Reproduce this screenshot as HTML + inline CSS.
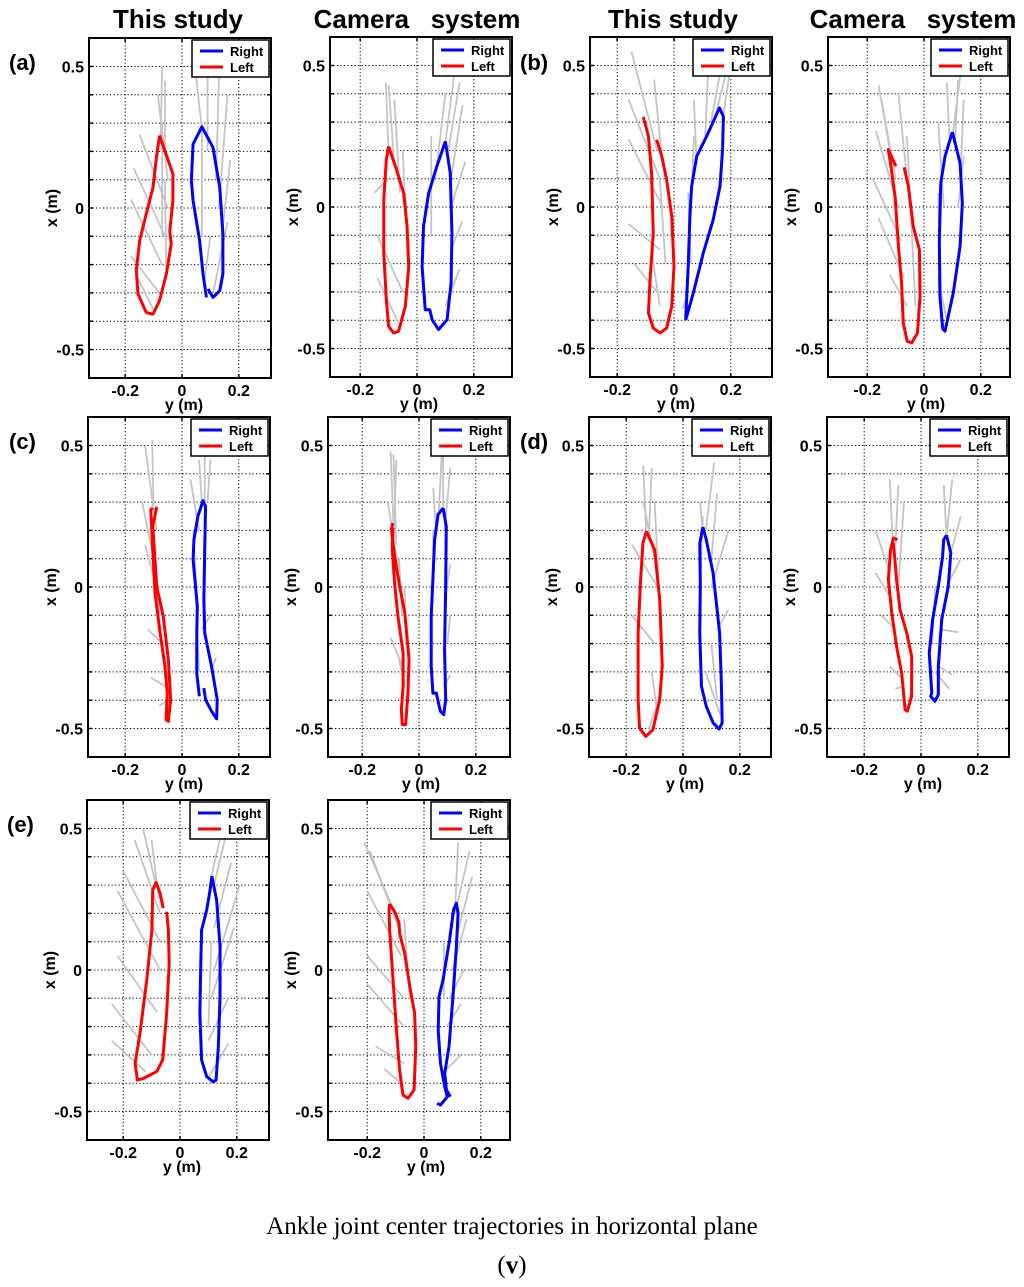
<!DOCTYPE html>
<html><head><meta charset="utf-8"><style>
html,body{margin:0;padding:0;background:#fff;}
svg{display:block;}
text{font-family:"Liberation Sans",Arial,sans-serif;}
</style></head><body>
<svg id="fig" width="1024" height="1287" viewBox="0 0 1024 1287" xmlns="http://www.w3.org/2000/svg">
<g font-weight="bold" font-size="26" text-anchor="middle">
<text x="178" y="28">This study</text>
<text x="417" y="28" xml:space="preserve">Camera   system</text>
<text x="673" y="28">This study</text>
<text x="913" y="28" xml:space="preserve">Camera   system</text>
</g>
<g font-weight="bold" font-size="22">
<text x="9" y="70">(a)</text>
<text x="520" y="70">(b)</text>
<text x="9" y="449">(c)</text>
<text x="520" y="449">(d)</text>
<text x="7" y="832">(e)</text>
</g>
<text x="512" y="1234" text-anchor="middle" font-size="25" style="font-family:'Liberation Serif',serif">Ankle joint center trajectories in horizontal plane</text>
<text x="512" y="1273" text-anchor="middle" font-size="25" style="font-family:'Liberation Serif',serif">(<tspan font-weight="bold">v</tspan>)</text>
</svg>
<script>
// Tick values
const yTicks = [-0.2, 0, 0.2];
const yTickLabels = ["-0.2", "0", "0.2"];
const xTicks = [-0.5, -0.4, -0.3, -0.2, -0.1, 0, 0.1, 0.2, 0.3, 0.4, 0.5];
const xTickLabels = ["-0.5", "0", "0.5"];
const xLabelValues = [-0.5, 0, 0.5];

// Trajectories: [y (m), x (m)] pairs
const aL_left = [[-0.079,0.256],[-0.032,0.12],[-0.032,0.026],[-0.043,-0.08],[-0.038,-0.127],[-0.055,-0.233],[-0.079,-0.327],[-0.102,-0.375],[-0.126,-0.369],[-0.155,-0.304],[-0.161,-0.221],[-0.149,-0.115],[-0.126,-0.021],[-0.102,0.073],[-0.09,0.179],[-0.079,0.256]];
const aL_right = [[0.086,-0.316],[0.074,-0.233],[0.062,-0.115],[0.039,0.026],[0.033,0.097],[0.039,0.226],[0.07,0.287],[0.109,0.214],[0.133,0.073],[0.144,-0.092],[0.144,-0.233],[0.133,-0.292],[0.109,-0.316],[0.092,-0.286]];
const aR_left = [[-0.1,0.214],[-0.076,0.144],[-0.047,0.049],[-0.035,-0.068],[-0.029,-0.21],[-0.041,-0.351],[-0.065,-0.439],[-0.082,-0.445],[-0.1,-0.422],[-0.108,-0.327],[-0.117,-0.163],[-0.117,0.026],[-0.108,0.167],[-0.1,0.214]];
const aR_right = [[0.1,0.232],[0.117,0.12],[0.123,-0.092],[0.12,-0.268],[0.106,-0.398],[0.076,-0.433],[0.053,-0.398],[0.045,-0.363],[0.029,-0.363],[0.018,-0.21],[0.023,-0.068],[0.041,0.049],[0.07,0.144],[0.1,0.232]];
const bL_left = [[-0.108,0.318],[-0.09,0.25],[-0.079,0.12],[-0.073,-0.092],[-0.085,-0.268],[-0.09,-0.375],[-0.073,-0.428],[-0.049,-0.445],[-0.026,-0.428],[-0.008,-0.351],[0,-0.21],[-0.008,-0.033],[-0.026,0.097],[-0.043,0.179],[-0.061,0.238]];
const bL_right = [[0.041,-0.4],[0.05,-0.21],[0.056,-0.033],[0.062,0.073],[0.08,0.179],[0.115,0.25],[0.16,0.35],[0.174,0.32],[0.171,0.203],[0.162,0.073],[0.138,-0.045],[0.103,-0.163],[0.068,-0.304],[0.041,-0.4]];
const bR_left = [[-0.099,0.144],[-0.126,0.203],[-0.118,0.155],[-0.102,0.038],[-0.09,-0.139],[-0.079,-0.269],[-0.073,-0.41],[-0.059,-0.475],[-0.043,-0.48],[-0.023,-0.445],[-0.014,-0.316],[-0.016,-0.151],[-0.038,-0.068],[-0.055,0.073],[-0.07,0.14]];
const bR_right = [[0.1,0.265],[0.127,0.155],[0.135,0.014],[0.127,-0.139],[0.103,-0.304],[0.074,-0.439],[0.066,-0.43],[0.056,-0.316],[0.054,-0.115],[0.059,0.085],[0.074,0.179],[0.1,0.265]];
const cL_left = [[-0.089,0.283],[-0.103,0.215],[-0.089,0.002],[-0.066,-0.104],[-0.048,-0.257],[-0.04,-0.398],[-0.048,-0.475],[-0.056,-0.469],[-0.052,-0.375],[-0.06,-0.28],[-0.077,-0.163],[-0.095,-0.021],[-0.103,0.132],[-0.11,0.273],[-0.103,0.279]];
const cL_right = [[0.061,-0.386],[0.052,-0.304],[0.052,-0.163],[0.054,-0.068],[0.039,0.097],[0.042,0.167],[0.056,0.25],[0.074,0.305],[0.083,0.285],[0.08,0.132],[0.077,-0.045],[0.08,-0.163],[0.104,-0.28],[0.124,-0.398],[0.122,-0.466],[0.104,-0.439],[0.083,-0.398],[0.077,-0.357]];
const cR_left = [[-0.092,0.226],[-0.097,0.203],[-0.086,0.108],[-0.068,0.002],[-0.05,-0.092],[-0.035,-0.257],[-0.039,-0.375],[-0.047,-0.486],[-0.059,-0.486],[-0.062,-0.433],[-0.056,-0.351],[-0.056,-0.233],[-0.074,-0.104],[-0.086,0.014],[-0.094,0.132],[-0.092,0.209]];
const cR_right = [[0.085,0.279],[0.096,0.214],[0.094,0.002],[0.09,-0.221],[0.094,-0.398],[0.087,-0.451],[0.075,-0.439],[0.061,-0.375],[0.049,-0.375],[0.043,-0.28],[0.043,-0.104],[0.052,0.097],[0.055,0.167],[0.067,0.256],[0.085,0.279]];
const dL_left = [[-0.129,0.197],[-0.1,0.132],[-0.082,-0.045],[-0.073,-0.28],[-0.082,-0.398],[-0.106,-0.504],[-0.131,-0.528],[-0.153,-0.498],[-0.158,-0.398],[-0.158,-0.163],[-0.15,0.014],[-0.141,0.155],[-0.129,0.197]];
const dL_right = [[0.07,0.212],[0.082,0.167],[0.106,0.049],[0.129,-0.163],[0.135,-0.339],[0.138,-0.48],[0.127,-0.502],[0.106,-0.48],[0.082,-0.422],[0.065,-0.351],[0.059,-0.163],[0.061,0.014],[0.059,0.155],[0.07,0.212]];
const dR_left = [[-0.083,0.167],[-0.097,0.173],[-0.107,0.132],[-0.115,0.026],[-0.103,-0.092],[-0.086,-0.21],[-0.068,-0.304],[-0.056,-0.433],[-0.048,-0.439],[-0.033,-0.386],[-0.033,-0.245],[-0.05,-0.163],[-0.074,-0.08],[-0.086,0.026],[-0.097,0.155]];
const dR_right = [[0.09,0.183],[0.105,0.12],[0.096,0.002],[0.073,-0.115],[0.061,-0.28],[0.061,-0.38],[0.049,-0.404],[0.034,-0.386],[0.038,-0.374],[0.029,-0.233],[0.041,-0.115],[0.061,0.002],[0.076,0.108],[0.08,0.167],[0.09,0.183]];
const eL_left = [[-0.059,0.218],[-0.07,0.271],[-0.084,0.309],[-0.096,0.283],[-0.099,0.141],[-0.117,-0.035],[-0.141,-0.224],[-0.158,-0.33],[-0.15,-0.389],[-0.129,-0.383],[-0.082,-0.359],[-0.061,-0.318],[-0.047,-0.153],[-0.038,0.024],[-0.041,0.141],[-0.047,0.206]];
const eL_right = [[0.112,0.332],[0.129,0.247],[0.141,0.082],[0.141,-0.094],[0.135,-0.271],[0.127,-0.389],[0.117,-0.395],[0.094,-0.377],[0.076,-0.318],[0.07,-0.153],[0.073,0.012],[0.076,0.141],[0.094,0.212],[0.106,0.283],[0.112,0.332]];
const eR_left = [[-0.121,0.233],[-0.103,0.206],[-0.088,0.167],[-0.086,0.13],[-0.068,0.059],[-0.05,-0.059],[-0.033,-0.153],[-0.029,-0.271],[-0.035,-0.424],[-0.056,-0.453],[-0.074,-0.442],[-0.086,-0.353],[-0.097,-0.212],[-0.109,-0.035],[-0.121,0.141],[-0.123,0.212],[-0.121,0.233]];
const eR_right = [[0.093,-0.448],[0.079,-0.424],[0.073,-0.365],[0.088,-0.271],[0.102,-0.094],[0.114,0.082],[0.12,0.2],[0.114,0.236],[0.104,0.212],[0.09,0.106],[0.067,-0.035],[0.053,-0.094],[0.05,-0.212],[0.058,-0.33],[0.073,-0.412],[0.082,-0.448],[0.058,-0.477],[0.046,-0.471]];

// Grey shank segments: [y0, x0, y1, x1] in metres
const aL_grey = [[-0.075,0.25,-0.07,0.5],[-0.06,0.2,-0.06,0.45],[-0.05,0.1,-0.085,0.4],[-0.05,0.0,-0.15,0.26],[-0.06,-0.1,-0.17,0.14],[-0.07,-0.2,-0.18,0.03],[-0.08,-0.3,-0.18,-0.17],[-0.1,-0.36,-0.16,-0.24],[-0.07,-0.1,-0.07,0.3],[-0.055,-0.25,-0.06,0.1],[0.07,0.28,0.05,0.46],[0.09,0.2,0.09,0.46],[0.12,0.1,0.13,0.46],[0.13,0,0.16,0.4],[0.14,-0.1,0.17,0.17],[0.13,-0.2,0.16,-0.05],[0.11,-0.3,0.14,-0.15],[0.08,-0.25,0.1,-0.1],[0.07,-0.1,0.07,0.3]];
const aR_grey = [[-0.1,0.2,-0.11,0.44],[-0.08,0.15,-0.1,0.43],[-0.06,0.05,-0.08,0.38],[-0.04,-0.05,-0.05,0.2],[-0.03,-0.2,-0.04,0.05],[-0.05,-0.3,-0.14,-0.1],[-0.07,-0.4,-0.14,-0.25],[-0.1,0.1,-0.15,0.05],[0.1,0.23,0.13,0.46],[0.11,0.2,0.15,0.44],[0.07,0.15,0.1,0.4],[0.12,0.1,0.16,0.36],[0.12,0,0.17,0.16],[0.12,-0.15,0.16,-0.05],[0.1,-0.35,0.15,-0.22],[0.05,-0.1,0.05,0.25]];
const bL_grey = [[-0.06,0.2,-0.15,0.55],[-0.05,0.1,-0.16,0.38],[-0.04,0,-0.16,0.24],[-0.05,-0.15,-0.16,-0.06],[-0.06,-0.3,-0.14,-0.2],[-0.05,-0.35,-0.08,-0.15],[-0.04,0.15,-0.07,0.45],[-0.03,-0.2,-0.05,0.1],[0.11,0.25,0.12,0.48],[0.14,0.3,0.19,0.5],[0.13,0.3,0.16,0.46],[0.08,0.15,0.07,0.38],[0.06,0.0,0.07,0.25],[0.05,-0.3,0.03,-0.36],[0.06,-0.2,0.05,0.05],[0.17,0.3,0.2,0.5]];
const bR_grey = [[-0.12,0.2,-0.16,0.43],[-0.1,0.1,-0.15,0.38],[-0.09,0,-0.17,0.27],[-0.08,-0.12,-0.18,0.1],[-0.07,-0.25,-0.16,-0.04],[-0.06,-0.35,-0.12,-0.24],[-0.05,0.0,-0.09,0.4],[-0.03,-0.35,-0.06,0.25],[0.09,0.24,0.08,0.44],[0.11,0.24,0.12,0.45],[0.13,0.15,0.14,0.38],[0.12,0.0,0.14,0.18],[0.07,0.0,0.05,0.3],[0.06,-0.3,0.05,0.05],[0.08,-0.4,0.05,-0.25],[0.1,0.25,0.13,0.48]];
const cL_grey = [[-0.1,0.27,-0.105,0.52],[-0.09,0.2,-0.13,0.5],[-0.1,0.1,-0.14,0.3],[-0.09,0,-0.13,0.15],[-0.07,-0.2,-0.12,-0.15],[-0.06,-0.35,-0.11,-0.32],[-0.05,-0.4,-0.08,-0.42],[-0.08,-0.1,-0.1,0.2],[0.07,0.3,0.06,0.45],[0.08,0.28,0.08,0.47],[0.06,0.2,0.03,0.38],[0.05,0,0.04,0.2],[0.07,-0.15,0.1,-0.1],[0.1,-0.3,0.12,-0.25],[0.06,-0.3,0.05,-0.05],[0.09,0.3,0.1,0.45]];
const cR_grey = [[-0.09,0.22,-0.1,0.48],[-0.08,0.15,-0.09,0.47],[-0.07,0.05,-0.11,0.3],[-0.06,-0.1,-0.07,0.1],[-0.05,-0.3,-0.1,-0.18],[-0.05,-0.35,-0.07,-0.26],[-0.045,-0.2,-0.05,0],[-0.09,0.1,-0.08,0.45],[0.085,0.27,0.085,0.47],[0.09,0.2,0.11,0.42],[0.06,0.2,0.05,0.35],[0.05,0,0.05,0.2],[0.09,-0.05,0.11,0.08],[0.1,-0.2,0.11,-0.1],[0.09,-0.35,0.11,-0.31],[0.07,0.27,0.08,0.47]];
const dL_grey = [[-0.13,0.2,-0.14,0.43],[-0.12,0.18,-0.11,0.42],[-0.1,0.1,-0.14,0.3],[-0.09,0,-0.18,0.15],[-0.1,-0.2,-0.18,-0.1],[-0.09,-0.45,-0.11,-0.3],[-0.12,-0.5,-0.08,-0.38],[-0.08,-0.1,-0.1,0.3],[0.07,0.2,0.06,0.3],[0.08,0.2,0.11,0.44],[0.1,0.1,0.12,0.33],[0.1,0.0,0.16,0.2],[0.12,-0.15,0.16,-0.08],[0.12,-0.4,0.1,-0.2],[0.13,-0.45,0.08,-0.3],[0.06,0.0,0.07,0.25]];
const dR_grey = [[-0.1,0.17,-0.11,0.38],[-0.09,0.15,-0.08,0.36],[-0.11,0.05,-0.16,0.2],[-0.1,-0.05,-0.16,0.05],[-0.09,-0.15,-0.14,-0.1],[-0.07,-0.32,-0.11,-0.28],[-0.06,-0.35,-0.09,-0.36],[-0.08,0.0,-0.06,0.3],[0.09,0.18,0.11,0.38],[0.09,0.18,0.08,0.36],[0.1,0.1,0.14,0.25],[0.09,0.0,0.14,0.1],[0.07,-0.15,0.13,-0.16],[0.06,-0.28,0.11,-0.31],[0.05,-0.3,0.1,-0.36],[0.04,-0.2,0.05,0.0]];
const eL_grey = [[-0.085,0.3,-0.13,0.5],[-0.075,0.25,-0.1,0.46],[-0.07,0.2,-0.16,0.46],[-0.07,0.1,-0.2,0.35],[-0.07,0,-0.22,0.28],[-0.08,-0.15,-0.22,0.05],[-0.1,-0.3,-0.24,-0.12],[-0.12,-0.36,-0.24,-0.25],[0.11,0.33,0.14,0.46],[0.12,0.3,0.16,0.47],[0.12,0.15,0.18,0.38],[0.12,0.0,0.21,0.3],[0.11,-0.1,0.19,0.15],[0.1,-0.25,0.17,-0.1],[0.1,-0.38,0.17,-0.26],[0.1,-0.2,0.11,0.1]];
const eR_grey = [[-0.11,0.22,-0.21,0.45],[-0.09,0.15,-0.19,0.42],[-0.08,0.05,-0.2,0.28],[-0.07,-0.1,-0.2,0.05],[-0.07,-0.2,-0.2,-0.05],[-0.07,-0.33,-0.17,-0.27],[-0.08,-0.4,-0.14,-0.35],[-0.05,-0.1,-0.07,0.18],[0.11,0.23,0.12,0.45],[0.11,0.2,0.16,0.42],[0.11,0.1,0.17,0.33],[0.1,0.0,0.15,0.18],[0.09,-0.1,0.14,0.0],[0.08,-0.2,0.13,-0.12],[0.08,-0.35,0.13,-0.3],[0.07,-0.1,0.07,0.1]];

const panelIds = ["a-study","a-camera","b-study","b-camera","c-study","c-camera","d-study","d-camera","e-study","e-camera"];
const leftSeries = [aL_left,aR_left,bL_left,bR_left,cL_left,cR_left,dL_left,dR_left,eL_left,eR_left];
const rightSeries = [aL_right,aR_right,bL_right,bR_right,cL_right,cR_right,dL_right,dR_right,eL_right,eR_right];
const greySeries = [aL_grey,aR_grey,bL_grey,bR_grey,cL_grey,cR_grey,dL_grey,dR_grey,eL_grey,eR_grey];

// layout (pixels)
const boxLeft = [89,330,590,828,88,328,589,827,87,328];
const boxTop = [38,37,37,37,417,417,417,417,800,800];
const zeroPx = [182,417,674,924,182,419,683,921,180,424];
const W = 182, H = 340, SX = 284, SY = 283;

const NS = "http://www.w3.org/2000/svg";
const svg = document.getElementById("fig");
function mk(tag, attrs, parent){ const e=document.createElementNS(NS,tag); for(const k in attrs) e.setAttribute(k,attrs[k]); parent.appendChild(e); return e; }

panelIds.forEach((id,i)=>{
  const L=boxLeft[i], T=boxTop[i], Z=zeroPx[i], VZ=T+H/2;
  const px = y => Z + y*SX;
  const py = x => VZ - x*SY;
  const g = mk("g",{},svg);
  
  
  const cp = mk("clipPath",{id:"clip"+i},g);
  mk("rect",{x:L,y:T,width:W,height:H},cp);
  const grid = mk("g",{stroke:"#000","stroke-width":1,"stroke-dasharray":"1.2,2.3"},g);
  
  
  yTicks.forEach(v=>{ mk("line",{x1:px(v),x2:px(v),y1:T,y2:T+H},grid); });
  xTicks.forEach(v=>{ mk("line",{x1:L,x2:L+W,y1:py(v),y2:py(v)},grid); });
  const gg = mk("g",{stroke:"#c4c4c4","stroke-width":1.8,"clip-path":"url(#clip"+i+")"},g);
  
  
  greySeries[i].forEach(s=>{
    const ln = mk("line",{x1:px(s[0]),y1:py(s[1]),x2:px(s[2]),y2:py(s[3])},gg);
    
    
  });
  const lp = mk("polyline",{points:leftSeries[i].map(p=>px(p[0])+","+py(p[1])).join(" "),fill:"none",stroke:"#ff0000","stroke-width":3,"stroke-linejoin":"round","clip-path":"url(#clip"+i+")"},g);
  
  
  const rp = mk("polyline",{points:rightSeries[i].map(p=>px(p[0])+","+py(p[1])).join(" "),fill:"none",stroke:"#0000ff","stroke-width":3,"stroke-linejoin":"round","clip-path":"url(#clip"+i+")"},g);
  
  
  const tk = mk("g",{stroke:"#000","stroke-width":1.5},g);
  
  
  xTicks.forEach(v=>{ mk("line",{x1:L,x2:L+4,y1:py(v),y2:py(v)},tk); mk("line",{x1:L+W-4,x2:L+W,y1:py(v),y2:py(v)},tk); });
  yTicks.forEach(v=>{ mk("line",{x1:px(v),x2:px(v),y1:T,y2:T+4},tk); mk("line",{x1:px(v),x2:px(v),y1:T+H-4,y2:T+H},tk); });
  const fr = mk("rect",{x:L,y:T,width:W,height:H,fill:"none",stroke:"#000","stroke-width":2},g);
  
  
  yTicks.forEach((v,k)=>{
    const t = mk("text",{x:px(v),y:T+H+18,"text-anchor":"middle","font-size":16,"font-weight":"bold"},g);
    t.textContent = yTickLabels[k];
    
    
  });
  xLabelValues.forEach((v,k)=>{
    const t = mk("text",{x:L-5,y:py(v)+6,"text-anchor":"end","font-size":16,"font-weight":"bold"},g);
    t.textContent = xTickLabels[k];
    
    
  });
  const xl = mk("text",{x:Z+2,y:T+H+32,"text-anchor":"middle","font-size":16,"font-weight":"bold"},g);
  xl.textContent = "y (m)";
  
  
  const yl = mk("text",{x:0,y:0,"text-anchor":"middle","font-size":16,"font-weight":"bold",transform:"translate("+(L-32)+","+VZ+") rotate(-90)"},g);
  yl.textContent = "x (m)";
  
  
  const lg = mk("g",{},g);
  
  
  const lx = L+W-79, ly = T+2;
  mk("rect",{x:lx,y:ly,width:77,height:37,fill:"#fff",stroke:"#000","stroke-width":1.5},lg);
  const e1 = mk("line",{x1:lx+8,x2:lx+31,y1:ly+11,y2:ly+11,stroke:"#0000ff","stroke-width":3},lg);
  
  
  const t1 = mk("text",{x:lx+38,y:ly+16,"font-size":13,"font-weight":"bold"},lg);
  t1.textContent = "Right";
  
  
  const e2 = mk("line",{x1:lx+8,x2:lx+31,y1:ly+27,y2:ly+27,stroke:"#ff0000","stroke-width":3},lg);
  
  
  const t2 = mk("text",{x:lx+38,y:ly+32,"font-size":13,"font-weight":"bold"},lg);
  t2.textContent = "Left";
  
  
});
</script>
</body></html>
